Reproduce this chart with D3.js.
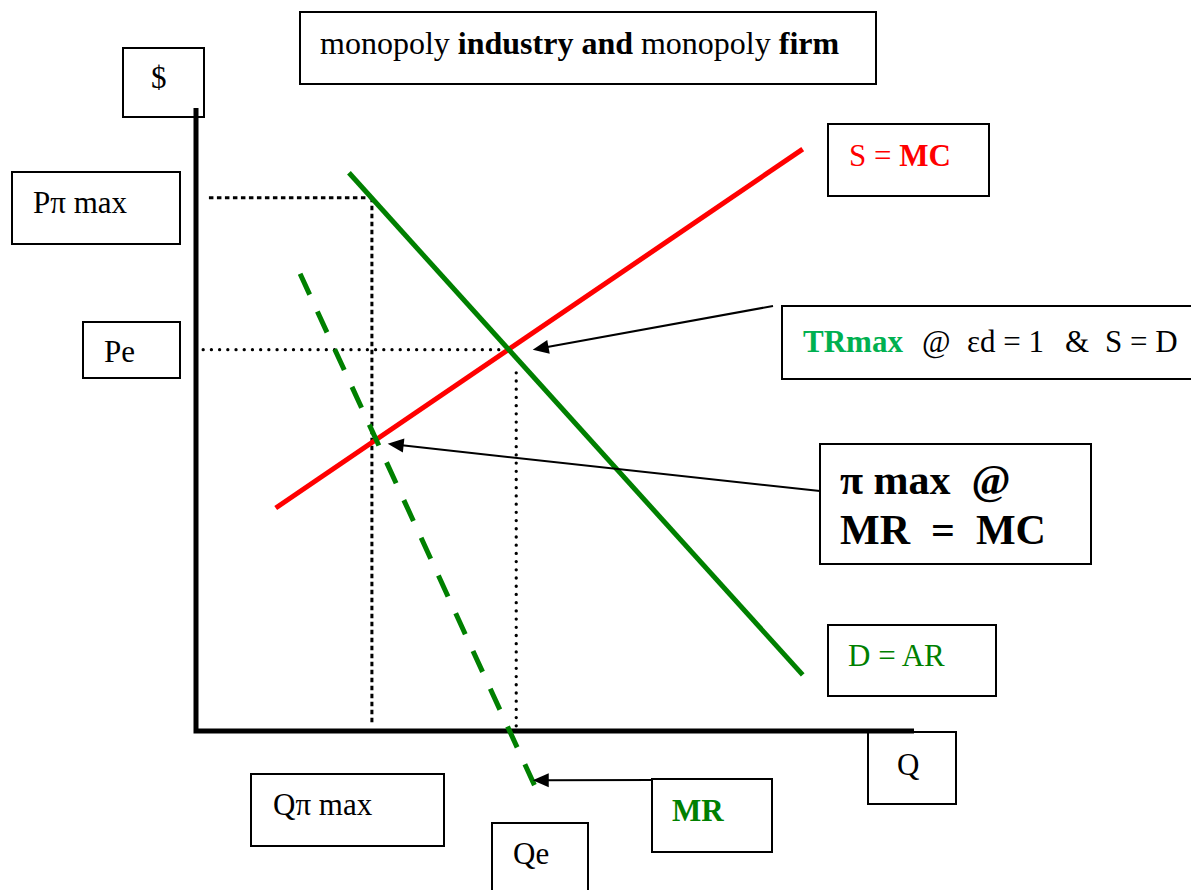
<!DOCTYPE html>
<html>
<head>
<meta charset="utf-8">
<script src="https://cdn.jsdelivr.net/npm/d3@7"></script>
<style>
  html, body { margin: 0; padding: 0; background: #fff; }
  svg { display: block; }
  text { white-space: pre; }
</style>
</head>
<body>
<svg id="chart" width="1191" height="890"></svg>
<script>
// ---- data (Q, P units: 0..100 on each axis) ----
const supplyMC = [[11.1, 35.8], [84.5, 93.4]];
const demandAR = [[21.3, 89.6], [84.5, 9.0]];
const marginalRevenue = [[14.5, 73.4], [47.5, -9.6]];
const qPiMax = 24.5, pPiMax = 85.6;
const qE = 44.6, pE = 61.2;
const piMaxPoint = [26.7, 46.1];
const trMaxPoint = [46.9, 61.2];
const mrPoint = [46.9, -7.9];
const axisLabels = ["$", "Q"];
const levelLabels = ["P\u03c0 max", "Pe"];
const quantityLabels = ["Q\u03c0 max", "Qe"];

const FONT = "Liberation Serif";
const svg = d3.select("#chart");
const x = d3.scaleLinear().domain([0, 100]).range([196, 914]);
const y = d3.scaleLinear().domain([0, 100]).range([731, 108]);
const line = d3.line().x(d => x(d[0])).y(d => y(d[1]));

// boxes
function box(x0, y0, w, h) {
  svg.append("rect").attr("x", x0).attr("y", y0).attr("width", w).attr("height", h)
    .attr("fill", "#fff").attr("stroke", "#000").attr("stroke-width", 2);
}
box(300, 12, 576, 72);
box(123, 48, 81, 69);
box(12, 172, 168, 72);
box(83, 322, 97, 56);
box(828, 124, 161, 72);
box(782, 306, 420, 73);
box(820, 444, 271, 120);
box(828, 625, 168, 71);
box(868, 732, 88, 72);
box(251, 774, 193, 72);
box(492, 823, 96, 80);
box(652, 779, 120, 73);

// axes
svg.append("path").attr("d", line([[0, 100], [0, 0], [100, 0]]))
  .attr("fill", "none").attr("stroke", "#000").attr("stroke-width", 5)
  .attr("stroke-linejoin", "miter");

// guide lines
const sq = {w: 3, dash: "4.5,3.5", cap: "butt"};
const rd = {w: 3.3, dash: "0.01,8.2", cap: "round"};
function guide(pts, st) {
  svg.append("path").attr("d", line(pts)).attr("fill", "none")
    .attr("stroke", "#000").attr("stroke-width", st.w)
    .attr("stroke-dasharray", st.dash).attr("stroke-linecap", st.cap);
}
guide([[1.8, pPiMax], [qPiMax, pPiMax]], sq);
guide([[qPiMax, pPiMax], [qPiMax, 1.1]], sq);
guide([[1.0, pE], [43.5, pE]], rd);
guide([[qE, 57.5], [qE, 0.6]], rd);

// curves
svg.append("path").attr("d", line(supplyMC)).attr("fill", "none")
  .attr("stroke", "#ff0000").attr("stroke-width", 5);
svg.append("path").attr("d", line(demandAR)).attr("fill", "none")
  .attr("stroke", "#008000").attr("stroke-width", 5);
svg.append("path").attr("d", line(marginalRevenue)).attr("fill", "none")
  .attr("stroke", "#008000").attr("stroke-width", 5)
  .attr("stroke-dasharray", "23,18.5");

// arrows
function arrow(x0, y0, tip) {
  const tx = x(tip[0]), ty = y(tip[1]);
  const ang = Math.atan2(y0 - ty, x0 - tx);
  svg.append("line").attr("x1", x0).attr("y1", y0)
    .attr("x2", tx + Math.cos(ang) * 12).attr("y2", ty + Math.sin(ang) * 12)
    .attr("stroke", "#000").attr("stroke-width", 2);
  svg.append("path").attr("d", "M0,0 L16,-7 L16,7 Z").attr("fill", "#000")
    .attr("transform", `translate(${tx},${ty}) rotate(${ang * 180 / Math.PI})`);
}
arrow(773, 306, trMaxPoint);
arrow(820, 491, piMaxPoint);
arrow(652, 780, mrPoint);

// texts: parts = [text, bold, colour, x]
function txt(xp, yp, parts, size, color) {
  const t = svg.append("text").attr("x", xp).attr("y", yp)
    .attr("font-family", FONT)
    .attr("font-size", size).attr("fill", color || "#000");
  parts.forEach(p => {
    const s = t.append("tspan").text(p[0])
      .attr("font-family", FONT)
      .attr("font-weight", p[1] ? "bold" : "normal")
      .attr("fill", p[2] || color || "#000");
    if (p[3] != null) s.attr("x", p[3]);
  });
  return t;
}
txt(320, 54, [["monopoly "], ["industry and", 1], [" monopoly "], ["firm", 1]], 32);
txt(151, 88, [[axisLabels[0]]], 31);
txt(33, 213, [[levelLabels[0]]], 31);
txt(104, 362, [[levelLabels[1]]], 31);
txt(849, 166, [["S = "], ["MC", 1]], 31, "#ff0000");
txt(803, 352, [["TRmax", 1, "#00b050", 803], ["@", 0, "#000", 922],
               ["\u025bd = 1", 0, "#000", 967], ["&", 0, "#000", 1065],
               ["S = D", 0, "#000", 1105]], 31);
txt(840, 494, [["\u03c0 max  @", 1]], 42);
txt(840, 544, [["MR  =  MC", 1]], 42);
txt(848, 666, [["D = AR"]], 31, "#008000");
txt(897, 775, [[axisLabels[1]]], 31);
txt(273, 815, [[quantityLabels[0]]], 31);
txt(513, 864, [[quantityLabels[1]]], 31);
txt(672, 821, [["MR", 1]], 31, "#008000");
</script>
</body>
</html>
